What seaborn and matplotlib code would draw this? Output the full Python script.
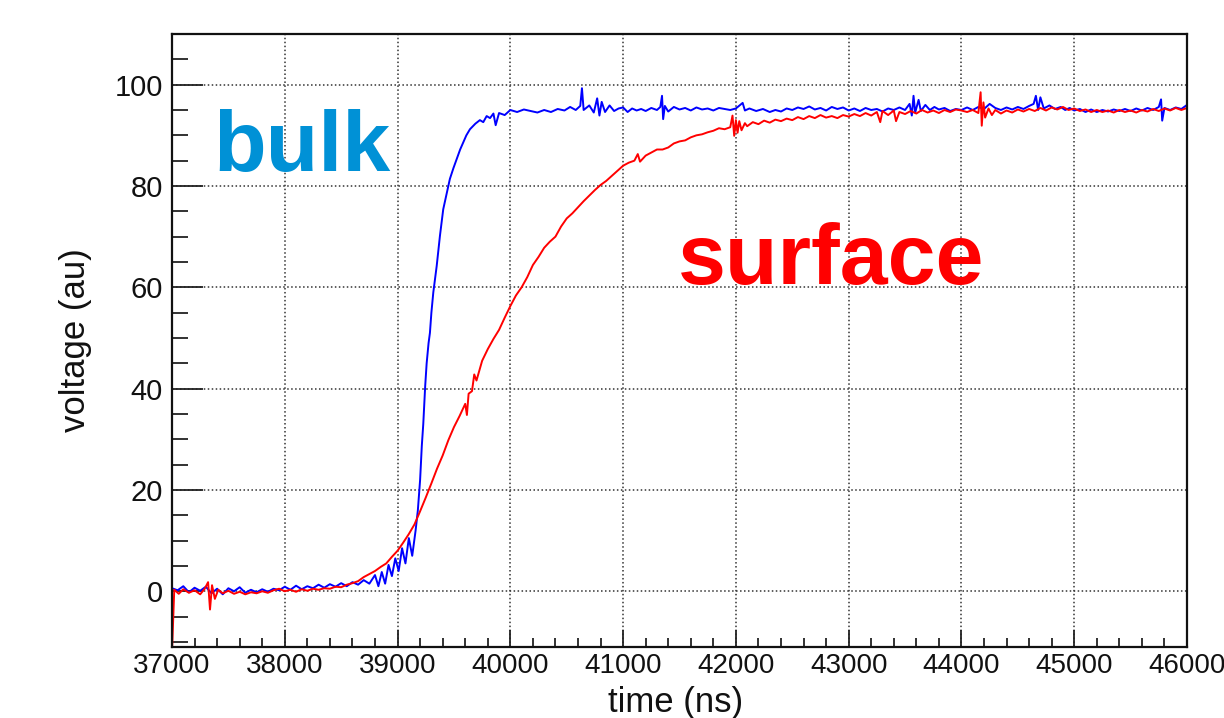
import matplotlib
matplotlib.use("Agg")
import matplotlib.pyplot as plt
import seaborn as sns
from matplotlib.ticker import MultipleLocator

# ---------------- data ----------------
blue_time_ns = [
    37000, 37050, 37100, 37150, 37200, 37250, 37300, 37350, 37400, 37450,
    37500, 37550, 37600, 37650, 37700, 37750, 37800, 37850, 37900, 37950,
    38000, 38050, 38100, 38150, 38200, 38250, 38300, 38350, 38400, 38450,
    38500, 38550, 38600, 38650, 38700, 38750, 38800, 38830, 38860, 38890,
    38920, 38950, 38980, 39010, 39040, 39070, 39100, 39130, 39160, 39180,
    39200, 39215, 39228, 39245, 39258, 39275, 39287, 39300, 39317, 39347,
    39376, 39405, 39435, 39464, 39495, 39524, 39555, 39582, 39610, 39642,
    39690, 39730, 39760, 39790, 39820, 39850, 39870, 39900, 39950, 40000,
    40060, 40120, 40180, 40240, 40300, 40360, 40420, 40480, 40530, 40580,
    40620, 40635, 40650, 40700, 40740, 40770, 40790, 40810, 40840, 40880,
    40920, 40960, 41000, 41040, 41080, 41120, 41160, 41200, 41250, 41300,
    41330, 41345, 41355, 41370, 41400, 41450, 41500, 41550, 41600, 41650,
    41700, 41750, 41800, 41850, 41900, 41950, 42000, 42060, 42080, 42120,
    42180, 42240, 42300, 42350, 42400, 42450, 42500, 42550, 42600, 42650,
    42700, 42750, 42800, 42850, 42900, 42950, 43000, 43050, 43100, 43150,
    43200, 43250, 43300, 43350, 43400, 43450, 43500, 43540, 43560, 43575,
    43590, 43620, 43640, 43680, 43720, 43760, 43800, 43850, 43900, 43950,
    44000, 44050, 44100, 44150, 44200, 44250, 44300, 44350, 44400, 44450,
    44500, 44550, 44600, 44640, 44660, 44680, 44700, 44730, 44780, 44830,
    44880, 44920, 44960, 45000, 45050, 45100, 45150, 45200, 45250, 45300,
    45350, 45400, 45450, 45500, 45550, 45600, 45650, 45700, 45750, 45770,
    45780, 45800, 45850, 45900, 45950, 46000,
]
blue_voltage = [
    0.6, 0.2, 1.0, -0.2, 0.7, 0.1, 0.9, -0.4, 0.5, -0.6,
    0.6, 0.0, 0.8, -0.3, 0.3, -0.2, 0.4, -0.1, 0.5, 0.2,
    0.9, 0.3, 1.1, 0.4, 1.0, 0.6, 1.3, 0.7, 1.4, 0.9,
    1.6, 1.0, 1.8, 1.3, 2.2, 1.5, 3.2, 1.0, 3.8, 1.5,
    5.2, 3.0, 6.5, 4.0, 8.5, 5.5, 10.5, 7.0, 12.0, 16.0,
    22.0, 28.7, 33.0, 40.5, 45.0, 49.0, 51.0, 55.0, 59.0, 64.2,
    70.2, 75.4, 78.5, 81.4, 83.5, 85.3, 87.2, 88.6, 90.0, 91.2,
    92.3, 93.0, 92.6, 93.8, 93.4, 94.3, 92.0, 94.4, 94.0, 95.0,
    94.6, 95.1, 94.8, 94.5, 95.0, 94.6, 95.2, 94.9, 95.6, 95.0,
    95.8, 99.3, 95.0, 95.9, 94.5, 97.3, 93.9, 96.6, 94.6, 95.9,
    94.8, 95.3, 95.5, 94.6, 95.3, 94.9, 95.2, 94.8, 95.4, 95.0,
    95.6, 97.8, 93.2, 95.8, 94.7, 95.6, 95.1, 95.4, 94.9, 95.5,
    95.1, 95.3, 94.9, 95.4, 95.2, 95.0, 95.3, 96.4, 94.9, 95.3,
    94.8, 95.2, 94.6, 95.0, 94.7, 95.3, 95.0, 95.5, 95.2, 95.7,
    95.1, 95.4, 94.9, 95.6, 95.2, 95.5, 94.9, 95.3, 94.8, 95.4,
    95.0, 95.2, 94.7, 95.3, 95.0, 95.5, 95.0, 96.2, 93.9, 97.8,
    94.5, 97.0, 94.8, 96.0, 95.0, 95.6, 95.1, 95.4, 94.8, 95.2,
    95.0, 95.5, 95.0, 95.6, 95.2, 96.2, 95.4, 95.0, 95.5, 95.1,
    95.6, 95.2, 95.8, 96.2, 97.8, 95.0, 97.5, 95.3, 95.9, 95.2,
    95.6, 95.0, 95.4, 94.9, 95.2, 94.6, 95.1, 94.6, 95.0, 94.7,
    95.1, 94.8, 95.2, 94.8, 95.3, 94.9, 95.4, 95.0, 95.6, 97.1,
    92.9, 95.4, 95.0, 95.5, 95.2, 96.0,
]

red_time_ns = [
    37000, 37020, 37060, 37100, 37150, 37200, 37250, 37290, 37320, 37337,
    37355, 37380, 37410, 37450, 37500, 37550, 37600, 37650, 37700, 37750,
    37800, 37850, 37900, 37950, 38000, 38050, 38100, 38150, 38200, 38250,
    38300, 38350, 38400, 38450, 38500, 38550, 38600, 38650, 38700, 38750,
    38800, 38850, 38900, 38950, 39000, 39050, 39100, 39150, 39200, 39250,
    39300, 39350, 39400, 39450, 39500, 39550, 39600, 39615, 39630, 39660,
    39680, 39700, 39750, 39800, 39850, 39900, 39950, 40000, 40050, 40100,
    40150, 40200, 40250, 40300, 40350, 40400, 40450, 40500, 40550, 40600,
    40650, 40700, 40750, 40800, 40850, 40900, 40950, 41000, 41050, 41100,
    41130, 41150, 41200, 41250, 41300, 41350, 41400, 41450, 41500, 41550,
    41600, 41650, 41700, 41750, 41800, 41850, 41900, 41950, 41970, 41985,
    42000, 42015, 42030, 42050, 42080, 42100, 42150, 42200, 42250, 42300,
    42350, 42400, 42450, 42500, 42550, 42600, 42650, 42700, 42750, 42800,
    42850, 42900, 42950, 43000, 43050, 43100, 43150, 43200, 43250, 43280,
    43300, 43350, 43400, 43420, 43450, 43500, 43550, 43600, 43650, 43700,
    43750, 43800, 43850, 43900, 43950, 44000, 44050, 44100, 44150, 44170,
    44180, 44195, 44210, 44240, 44270, 44300, 44350, 44400, 44450, 44500,
    44550, 44600, 44650, 44700, 44750, 44800, 44850, 44900, 44950, 45000,
    45050, 45100, 45150, 45200, 45250, 45300, 45350, 45400, 45450, 45500,
    45550, 45600, 45650, 45700, 45750, 45800, 45850, 45900, 45950, 46000,
]
red_voltage = [
    -12.0, 0.3, -0.5, 0.4, -0.3, 0.2, -0.6, 0.5, 1.8, -3.6,
    1.2, -1.5, 0.3, -0.4, 0.1, -0.5, -0.1, -0.6, -0.2, -0.4,
    0.0, -0.3, 0.2, 0.5, 0.0, 0.3, -0.1, 0.4, 0.1, 0.5,
    0.3, 0.6, 0.5, 0.9, 0.8, 1.3, 1.6, 2.0, 2.8, 3.4,
    4.0, 4.8, 5.5, 6.8, 8.0, 9.6, 11.3, 13.2, 15.8, 18.5,
    21.3, 24.2, 26.8, 29.8, 32.4, 34.6, 37.0, 34.8, 39.0, 39.5,
    42.8, 41.6, 45.5, 47.8, 49.8, 51.6, 54.0, 56.3, 58.4, 60.0,
    62.0, 64.4, 66.0, 67.8, 69.0, 70.0, 72.0, 73.6, 74.6, 75.8,
    77.0, 78.1, 79.2, 80.2, 81.0, 82.0, 83.0, 84.0, 84.6, 85.0,
    86.3, 84.8, 86.0, 86.6, 87.2, 87.2, 87.6, 88.4, 88.8, 89.0,
    89.6, 90.0, 90.2, 90.6, 90.9, 91.4, 91.2, 91.6, 93.9, 89.9,
    93.0, 90.5, 92.8, 91.0, 92.4, 91.8, 92.6, 92.2, 92.9, 92.5,
    93.1, 92.8, 93.3, 93.0, 93.6, 93.2, 93.8, 93.4, 94.0, 93.5,
    93.8, 93.4, 94.0, 93.7, 94.2, 93.8, 94.4, 93.9, 94.6, 92.6,
    94.8, 94.0, 94.9, 92.8, 94.6, 94.2, 94.8, 94.3, 95.0, 94.5,
    94.9, 94.4, 95.0, 94.6, 95.1, 94.9, 94.6, 95.0, 94.4, 98.5,
    91.9, 96.5, 93.5, 95.3, 94.0, 95.0, 94.3, 94.9, 94.5, 95.1,
    94.7, 95.2, 94.8, 95.4, 94.9, 95.5, 95.1, 95.6, 95.0, 95.3,
    94.8, 95.1, 94.6, 95.0, 94.6, 94.9, 94.5, 95.0, 94.6, 94.9,
    94.5, 95.0, 94.7, 95.2, 94.8, 95.3, 94.9, 95.4, 95.0, 95.4,
]

x_major_ticks = [37000, 38000, 39000, 40000, 41000, 42000, 43000, 44000, 45000, 46000]
y_major_ticks = [0, 20, 40, 60, 80, 100]
x_label = "time (ns)"
y_label = "voltage (au)"
annotation_texts = ["bulk", "surface"]
annotation_positions = [(37363, 82.9), (41486, 60.6)]
annotation_colors = ["#0091D6", "#FF0000"]

assert len(blue_time_ns) == len(blue_voltage)
assert len(red_time_ns) == len(red_voltage)

# ---------------- style ----------------
sns.set_style("ticks")
plt.rcParams["font.family"] = ["Liberation Sans", "DejaVu Sans"]

fig = plt.figure(figsize=(12.24, 7.18), dpi=100)
ax = fig.add_axes([172 / 1224, 1 - 647 / 718, (1187 - 172) / 1224, (647 - 34) / 718])

sns.lineplot(x=blue_time_ns, y=blue_voltage, ax=ax, color="#0000FF",
             linewidth=1.4, estimator=None, sort=False)
sns.lineplot(x=red_time_ns, y=red_voltage, ax=ax, color="#FF0000",
             linewidth=1.4, estimator=None, sort=False)

ax.set_xlim(37000, 46000)
ax.set_ylim(-11, 110)
ax.set_xticks(x_major_ticks)
ax.set_yticks(y_major_ticks)
ax.set_xticklabels([str(t) for t in x_major_ticks])
ax.set_yticklabels([str(t) for t in y_major_ticks])
ax.xaxis.set_minor_locator(MultipleLocator(200))
ax.yaxis.set_minor_locator(MultipleLocator(5))

ax.grid(True, which="major", color="#333333", linestyle=(0, (1, 1.6)), linewidth=1.1)
ax.set_axisbelow(True)

for s in ax.spines.values():
    s.set_visible(True)
    s.set_linewidth(1.6)
    s.set_color("#111111")

ax.tick_params(axis="both", which="both", direction="in", colors="#222222",
               labelcolor="#111111", width=1.3, top=False, right=False)
ax.tick_params(axis="x", which="major", length=12, pad=4, labelsize=20)
ax.tick_params(axis="x", which="minor", length=6.5)
ax.tick_params(axis="y", which="major", length=22, pad=6.5, labelsize=21)
ax.tick_params(axis="y", which="minor", length=11.5)

ax.set_xlabel(x_label, fontsize=25, color="#111111")
ax.set_ylabel(y_label, fontsize=25, color="#111111")
ax.xaxis.set_label_coords(0.496, -0.063)
ax.yaxis.set_label_coords(-0.079, 0.5)

for txt, (tx, ty), col in zip(annotation_texts, annotation_positions, annotation_colors):
    ax.text(tx, ty, txt, color=col, fontsize=62, fontweight="bold",
            ha="left", va="baseline")

fig.savefig("out.png", dpi=100)
